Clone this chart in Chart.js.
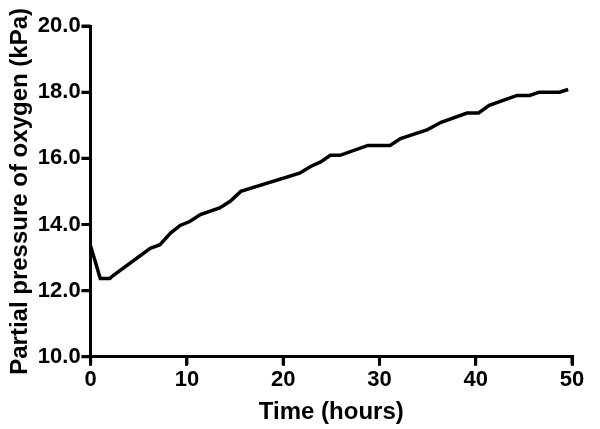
<!DOCTYPE html>
<html>
<head>
<meta charset="utf-8">
<script src="https://cdn.jsdelivr.net/npm/chart.js@4/dist/chart.umd.min.js"></script>
<style>
  html, body { margin: 0; padding: 0; background: #fff; }
  #wrap { width: 600px; height: 429px; }
</style>
</head>
<body>
<div id="wrap"><canvas id="po2chart"></canvas></div>
<script>
// time (hours) and partial pressure of oxygen (kPa)
const hours = [0, 1.0, 2.0, 2.3, 6.2, 7.2, 8.3, 9.3, 10.3, 11.4, 13.4, 14.5, 15.6, 21.7, 22.9, 23.9, 24.9, 25.9, 28.8, 31.1, 32.2, 35.0, 36.4, 39.1, 40.3, 41.4, 44.3, 45.6, 46.6, 48.7, 49.6];
const po2 = [13.35, 12.37, 12.37, 12.45, 13.28, 13.39, 13.74, 13.97, 14.09, 14.3, 14.5, 14.7, 15.0, 15.55, 15.76, 15.89, 16.09, 16.09, 16.39, 16.39, 16.6, 16.87, 17.09, 17.37, 17.37, 17.6, 17.9, 17.9, 18.0, 18.0, 18.08];
const xTicks = [0, 10, 20, 30, 40, 50];
const yTicks = [10, 12, 14, 16, 18, 20];

const points = hours.map((h, i) => ({ x: h, y: po2[i] }));

const tickFont = { family: 'Liberation Sans, Arial, sans-serif', size: 22, weight: 'bold' };
const titleFont = { family: 'Liberation Sans, Arial, sans-serif', size: 24, weight: 'bold' };

const gridOpts = {
  display: true,
  drawOnChartArea: false,
  drawTicks: true,
  color: '#000',
  lineWidth: 3,
  tickLength: 9,
  tickWidth: 3,
  tickColor: '#000'
};

// outward tick marks, placed through the scales
const tickMarks = {
  id: 'tickMarks',
  afterDraw(chart) {
    const ctx = chart.ctx;
    const xs = chart.scales.x, ys = chart.scales.y;
    ctx.save();
    ctx.strokeStyle = '#000';
    ctx.lineWidth = 3;
    ctx.beginPath();
    xTicks.forEach(v => {
      const px = xs.getPixelForValue(v);
      ctx.moveTo(px, ys.bottom);
      ctx.lineTo(px, ys.bottom + 8);
    });
    yTicks.forEach(v => {
      const py = ys.getPixelForValue(v);
      ctx.moveTo(xs.left, py);
      ctx.lineTo(xs.left - 9, py);
    });
    ctx.stroke();
    ctx.restore();
  }
};

const config = {
  type: 'line',
  data: {
    datasets: [{
      data: points,
      borderColor: '#000',
      borderWidth: 3.5,
      pointRadius: 0,
      tension: 0,
      fill: false
    }]
  },
  options: {
    responsive: true,
    maintainAspectRatio: false,
    animation: false,
    layout: { padding: { top: 26, right: 28, left: 6, bottom: 2 } },
    plugins: { legend: { display: false }, tooltip: { enabled: false } },
    scales: {
      x: {
        type: 'linear',
        min: xTicks[0],
        max: xTicks[xTicks.length - 1],
        afterBuildTicks: axis => { axis.ticks = xTicks.map(v => ({ value: v })); },
        grid: gridOpts,
        border: { display: true, color: '#000', width: 3 },
        ticks: { color: '#000', font: tickFont, padding: 1, maxRotation: 0 },
        title: { display: true, text: 'Time (hours)', color: '#000', font: titleFont, padding: { top: 4, bottom: 0 } }
      },
      y: {
        min: yTicks[0],
        max: yTicks[yTicks.length - 1],
        afterBuildTicks: axis => { axis.ticks = yTicks.map(v => ({ value: v })); },
        grid: gridOpts,
        border: { display: true, color: '#000', width: 3 },
        ticks: { color: '#000', font: tickFont, padding: 1, callback: v => Number(v).toFixed(1) },
        title: { display: true, text: 'Partial pressure of oxygen (kPa)', color: '#000', font: titleFont, padding: { top: 0, bottom: 2 } }
      }
    }
  },
  plugins: [tickMarks]
};

const po2Chart = new Chart(document.getElementById('po2chart'), config);
</script>
</body>
</html>
